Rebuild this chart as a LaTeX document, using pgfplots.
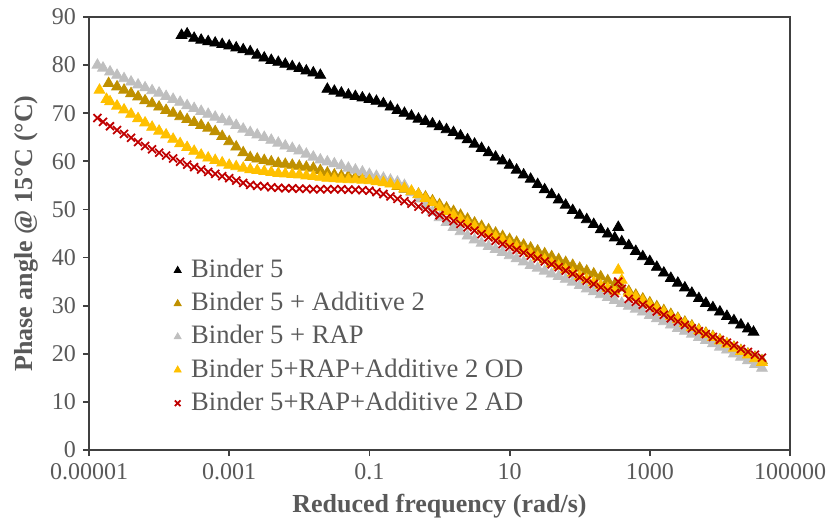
\documentclass[border=0pt]{standalone}
\usepackage{fontspec}
\setmainfont{Liberation Serif}
\usepackage{pgfplots}
\pgfplotsset{compat=1.18}
\usepackage{pgfplotstable}
\definecolor{cgold}{HTML}{BF9000}
\definecolor{cgrey}{HTML}{BFBFBF}
\definecolor{cyellow}{HTML}{FFC000}
\definecolor{cred}{HTML}{C00000}
\definecolor{txtgray}{HTML}{595959}
\definecolor{axgray}{HTML}{404040}

% L = log10(reduced frequency, rad/s), P = phase angle (deg)
\pgfplotstableread{
L P
-3.68 86.2
-3.6 86.5
-3.5 85.6
-3.4 85.2
-3.3 84.9
-3.2 84.6
-3.1 84.3
-3.0 84.0
-2.9 83.6
-2.8 83.2
-2.7 82.8
-2.6 82.1
-2.5 81.5
-2.4 81.0
-2.3 80.6
-2.2 80.2
-2.1 79.7
-2.0 79.3
-1.9 78.8
-1.8 78.4
-1.7 77.9
-1.6 75.0
-1.5 74.6
-1.4 74.2
-1.3 73.8
-1.2 73.5
-1.1 73.2
-1.0 72.9
-0.9 72.5
-0.8 72.0
-0.7 71.3
-0.6 70.6
-0.5 70.0
-0.4 69.4
-0.3 68.8
-0.2 68.3
-0.1 67.8
0.0 67.2
0.1 66.6
0.2 66.0
0.3 65.3
0.4 64.5
0.5 63.6
0.6 62.7
0.7 61.8
0.8 60.9
0.9 60.1
1.0 59.2
1.1 58.2
1.2 57.2
1.3 56.3
1.4 55.2
1.5 54.1
1.6 53.1
1.7 52.0
1.8 50.9
1.9 49.8
2.0 48.8
2.1 47.9
2.2 46.9
2.3 45.8
2.4 44.9
2.5 44.1
2.55 46.3
2.6 43.3
2.7 42.5
2.8 41.3
2.9 40.2
3.0 39.2
3.1 38.0
3.2 36.8
3.3 35.7
3.4 34.7
3.5 33.7
3.6 32.6
3.7 31.5
3.8 30.5
3.9 29.6
4.0 28.7
4.1 27.8
4.2 26.9
4.3 26.0
4.4 25.2
4.48 24.5
}\tblack

\pgfplotstableread{
L P
-4.72 76.2
-4.6 75.5
-4.5 74.8
-4.4 74.1
-4.3 73.4
-4.2 72.6
-4.1 72.0
-4.0 71.3
-3.9 70.6
-3.8 70.0
-3.7 69.3
-3.6 68.7
-3.5 68.1
-3.4 67.5
-3.3 66.9
-3.2 66.2
-3.1 65.2
-3.0 64.1
-2.9 63.0
-2.8 61.8
-2.7 60.8
-2.6 60.5
-2.5 60.2
-2.4 59.9
-2.3 59.6
-2.2 59.4
-2.1 59.2
-2.0 59.0
-1.9 58.8
-1.8 58.6
-1.7 58.1
-1.6 57.6
-1.5 57.2
-1.4 57.0
-1.3 56.9
-1.2 56.7
-1.1 56.6
-1.0 56.5
-0.9 56.2
-0.8 56.0
-0.7 55.5
-0.6 54.8
-0.5 54.2
-0.4 53.7
-0.3 53.2
-0.2 52.6
-0.1 51.8
0.0 51.0
0.1 50.3
0.2 49.6
0.3 48.8
0.4 48.0
0.5 47.2
0.6 46.5
0.7 45.8
0.8 45.1
0.9 44.4
1.0 43.8
1.1 43.2
1.2 42.6
1.3 42.0
1.4 41.4
1.5 40.8
1.6 40.2
1.7 39.6
1.8 39.0
1.9 38.4
2.0 37.8
2.1 37.2
2.2 36.6
2.3 36.0
2.4 35.2
2.5 34.4
2.6 33.7
2.7 33.0
2.8 32.2
2.9 31.4
3.0 30.6
3.1 29.8
3.2 29.0
3.3 28.2
3.4 27.4
3.5 26.6
3.6 25.8
3.7 25.0
3.8 24.3
3.9 23.6
4.0 22.9
4.1 22.1
4.2 21.4
4.3 20.7
4.4 20.0
4.5 19.3
4.6 18.6
}\tgold

\pgfplotstableread{
L P
-4.88 80.0
-4.8 79.4
-4.7 78.6
-4.6 77.9
-4.5 77.2
-4.4 76.5
-4.3 75.9
-4.2 75.3
-4.1 74.7
-4.0 74.2
-3.9 73.5
-3.8 72.9
-3.7 72.3
-3.6 71.6
-3.5 71.0
-3.4 70.4
-3.3 69.8
-3.2 69.2
-3.1 68.7
-3.0 68.2
-2.9 67.5
-2.8 66.7
-2.7 66.0
-2.6 65.5
-2.5 65.0
-2.4 64.4
-2.3 63.8
-2.2 63.2
-2.1 62.7
-2.0 62.2
-1.9 61.5
-1.8 60.9
-1.7 60.3
-1.6 59.9
-1.5 59.5
-1.4 59.1
-1.3 58.6
-1.2 58.2
-1.1 57.8
-1.0 57.3
-0.9 56.9
-0.8 56.5
-0.7 56.1
-0.6 55.7
-0.5 55.0
-0.4 53.5
-0.3 52.2
-0.2 50.8
-0.1 49.5
0.0 48.3
0.1 47.3
0.2 46.3
0.3 45.4
0.4 44.5
0.5 43.7
0.6 43.0
0.7 42.3
0.8 41.7
0.9 41.1
1.0 40.4
1.1 39.8
1.2 39.1
1.3 38.4
1.4 37.8
1.5 37.2
1.6 36.6
1.7 36.1
1.8 35.5
1.9 34.9
2.0 34.2
2.1 33.5
2.2 32.9
2.3 32.3
2.4 31.7
2.5 31.1
2.6 30.5
2.7 29.9
2.8 29.3
2.9 28.7
3.0 28.0
3.1 27.3
3.2 26.7
3.3 26.0
3.4 25.3
3.5 24.7
3.6 24.1
3.7 23.4
3.8 22.8
3.9 22.1
4.0 21.4
4.1 20.8
4.2 20.0
4.3 19.3
4.4 18.6
4.5 17.8
4.6 17.0
}\tgrey

\pgfplotstableread{
L P
-4.85 74.8
-4.75 72.9
-4.7 72.4
-4.6 71.5
-4.5 70.7
-4.4 69.8
-4.3 68.9
-4.2 68.0
-4.1 67.1
-4.0 66.3
-3.9 65.5
-3.8 64.6
-3.7 63.7
-3.6 62.9
-3.5 62.1
-3.4 61.3
-3.3 60.7
-3.2 60.2
-3.1 59.7
-3.0 59.2
-2.9 58.9
-2.8 58.6
-2.7 58.3
-2.6 58.1
-2.5 57.9
-2.4 57.7
-2.3 57.5
-2.2 57.4
-2.1 57.3
-2.0 57.2
-1.9 57.0
-1.8 56.9
-1.7 56.7
-1.6 56.5
-1.5 56.4
-1.4 56.3
-1.3 56.2
-1.2 56.2
-1.1 56.1
-1.0 56.0
-0.9 55.8
-0.8 55.6
-0.7 55.3
-0.6 54.9
-0.5 54.4
-0.4 53.8
-0.3 53.1
-0.2 52.3
-0.1 51.4
0.0 50.5
0.1 49.6
0.2 48.8
0.3 48.0
0.4 47.2
0.5 46.5
0.6 45.7
0.7 45.0
0.8 44.3
0.9 43.6
1.0 42.9
1.1 42.2
1.2 41.5
1.3 40.8
1.4 40.1
1.5 39.5
1.6 38.8
1.7 38.2
1.8 37.5
1.9 36.8
2.0 36.1
2.1 35.4
2.2 34.8
2.3 34.2
2.4 33.6
2.5 33.0
2.55 37.4
2.6 35.3
2.7 32.6
2.8 31.8
2.9 31.0
3.0 30.2
3.1 29.4
3.2 28.6
3.3 27.8
3.4 27.1
3.5 26.3
3.6 25.5
3.7 24.8
3.8 24.1
3.9 23.4
4.0 22.7
4.1 22.0
4.2 21.2
4.3 20.5
4.4 19.8
4.5 19.0
4.6 18.2
}\tyellow

\pgfplotstableread{
L P
-4.88 69.0
-4.8 68.2
-4.7 67.3
-4.6 66.5
-4.5 65.7
-4.4 64.9
-4.3 64.0
-4.2 63.2
-4.1 62.5
-4.0 61.8
-3.9 61.2
-3.8 60.6
-3.7 59.9
-3.6 59.3
-3.5 58.8
-3.4 58.3
-3.3 57.8
-3.2 57.4
-3.1 56.9
-3.0 56.5
-2.9 56.0
-2.8 55.5
-2.7 55.1
-2.6 54.9
-2.5 54.8
-2.4 54.6
-2.3 54.5
-2.2 54.4
-2.1 54.4
-2.0 54.3
-1.9 54.3
-1.8 54.2
-1.7 54.2
-1.6 54.2
-1.5 54.2
-1.4 54.2
-1.3 54.1
-1.2 54.1
-1.1 54.0
-1.0 53.9
-0.9 53.6
-0.8 53.2
-0.7 52.7
-0.6 52.2
-0.5 51.7
-0.4 51.2
-0.3 50.6
-0.2 50.0
-0.1 49.4
0.0 48.8
0.1 48.2
0.2 47.6
0.3 47.0
0.4 46.3
0.5 45.6
0.6 44.9
0.7 44.2
0.8 43.5
0.9 42.8
1.0 42.2
1.1 41.6
1.2 41.0
1.3 40.4
1.4 39.8
1.5 39.2
1.6 38.6
1.7 38.0
1.8 37.3
1.9 36.6
2.0 35.9
2.1 35.2
2.2 34.5
2.3 33.8
2.4 33.2
2.5 32.6
2.55 35.0
2.6 33.5
2.7 31.4
2.8 30.8
2.9 30.2
3.0 29.5
3.1 28.8
3.2 28.1
3.3 27.4
3.4 26.7
3.5 26.0
3.6 25.3
3.7 24.7
3.8 24.1
3.9 23.5
4.0 22.9
4.1 22.3
4.2 21.7
4.3 21.0
4.4 20.4
4.5 19.8
4.6 19.2
}\tred

\begin{document}
\begin{tikzpicture}
\useasboundingbox (-44.5pt,-38.5pt) rectangle (369.5pt,225pt);
\begin{axis}[
  scale only axis, width=350.5pt, height=216.5pt,
  at={(0,0)}, anchor=south west,
  xmin=-5, xmax=5, ymin=0, ymax=90,
  xtick={-5,-3,-1,1,3,5},
  xticklabels={0.00001,0.001,0.1,10,1000,100000},
  ytick={0,10,...,90},
  tick align=outside, tick pos=left, major tick length=3pt,
  axis line style={draw=axgray, line width=0.9pt},
  every tick/.style={draw=axgray, line width=0.9pt},
  ticklabel style={font=\fontsize{12}{14}\selectfont, text=txtgray},
  /pgf/number format/assume math mode=true,
  xlabel={Reduced frequency (rad/s)},
  ylabel={Phase angle @ 15°C (°C)},
  label style={font=\bfseries\fontsize{13}{15}\selectfont, text=txtgray},
  xlabel style={at={(axis description cs:0.5,-0.1432)}, anchor=base},
  ylabel style={at={(axis description cs:-0.0799,0.5)}, anchor=base},
  legend style={at={(axis description cs:0.121,0.4457)}, anchor=north west,
    draw=none, fill=none, inner sep=0pt, row sep=3.6pt, column sep=5pt,
    font=\fontsize{13.3}{15}\selectfont, text=txtgray,
    nodes={inner sep=0pt, text height=10pt, text depth=3pt}},
  legend cell align=left,
  legend image code/.code={\draw[#1, mark size=2pt] plot coordinates {(0pt,0pt)};},
]
\addplot[only marks, mark=triangle*, mark size=3.1pt, color=black] table[x=L,y=P] {\tblack};
\addlegendentry{Binder 5}
\addplot[only marks, mark=triangle*, mark size=3.1pt, color=cgold] table[x=L,y=P] {\tgold};
\addlegendentry{Binder 5 + Additive 2}
\addplot[only marks, mark=triangle*, mark size=3.1pt, color=cgrey] table[x=L,y=P] {\tgrey};
\addlegendentry{Binder 5 + RAP}
\addplot[only marks, mark=triangle*, mark size=3.1pt, color=cyellow] table[x=L,y=P] {\tyellow};
\addlegendentry{Binder 5+RAP+Additive 2 OD}
\addplot[only marks, mark=x, mark size=2.8pt, line width=0.9pt, color=cred] table[x=L,y=P] {\tred};
\addlegendentry{Binder 5+RAP+Additive 2 AD}
\end{axis}
\end{tikzpicture}
\end{document}
